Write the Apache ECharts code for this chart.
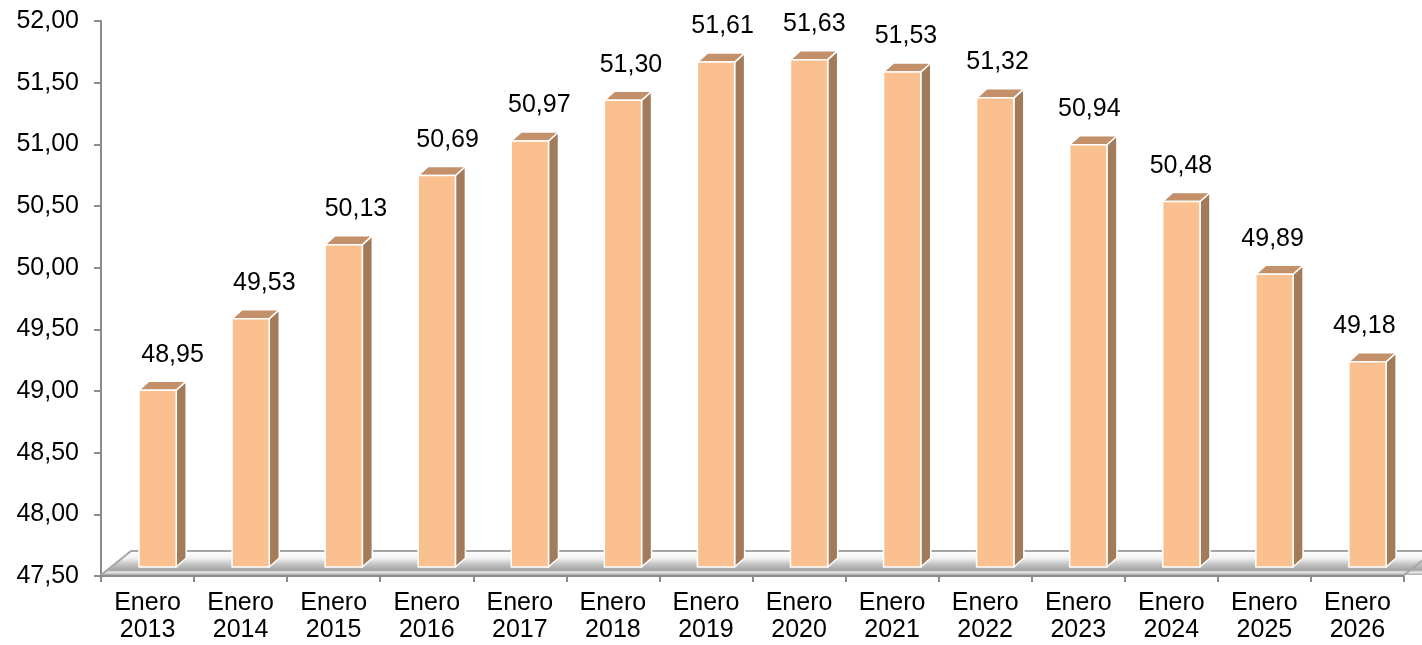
<!DOCTYPE html>
<html>
<head>
<meta charset="utf-8">
<script src="https://cdn.jsdelivr.net/npm/echarts@6/dist/echarts.min.js"></script>
<style>
html,body{margin:0;padding:0;background:#fff;}
#chart{width:1422px;height:645px;}
</style>
</head>
<body>
<div id="chart"></div>
<script>
const categories = ['Enero\n2013','Enero\n2014','Enero\n2015','Enero\n2016','Enero\n2017','Enero\n2018','Enero\n2019','Enero\n2020','Enero\n2021','Enero\n2022','Enero\n2023','Enero\n2024','Enero\n2025','Enero\n2026'];
const values = [48.95, 49.53, 50.13, 50.69, 50.97, 51.30, 51.61, 51.63, 51.53, 51.32, 50.94, 50.48, 49.89, 49.18];
const yTicks = { min: 47.5, max: 52, interval: 0.5 };

const FONT = '"Liberation Sans", Arial, sans-serif';
const fmt = v => v.toFixed(2).replace('.', ',');

function renderFloor(params, api) {
  const cs = params.coordSys;
  const fy = cs.y + cs.height - 1;
  const x0 = cs.x;
  const x1 = cs.x + cs.width;
  const dx = 30, dy = 24;
  return {
    type: 'group',
    children: [
      {
        type: 'polygon',
        shape: { points: [[x0, fy], [x0 + dx, fy - dy], [x1 + dx + 40, fy - dy], [x1 + 40, fy]] },
        style: {
          fill: new echarts.graphic.LinearGradient(0, 0, 0, 1, [
            { offset: 0, color: '#ffffff' },
            { offset: 0.3, color: '#f2f2f2' },
            { offset: 0.55, color: '#c4c4c4' },
            { offset: 0.8, color: '#a3a3a3' },
            { offset: 0.88, color: '#ececec' },
            { offset: 1, color: '#a8a8a8' }
          ])
        }
      },
      {
        type: 'polyline',
        shape: { points: [[x0, fy], [x0 + dx, fy - dy], [x1 + dx + 40, fy - dy]] },
        style: { stroke: '#a6a6a6', lineWidth: 2, fill: null }
      },
      {
        type: 'line',
        shape: { x1: x1, y1: fy, x2: x1 + 22, y2: fy - 17 },
        style: { stroke: '#a6a6a6', lineWidth: 2 }
      }
    ]
  };
}

function renderBar(params, api) {
  const i = api.value(0);
  const v = api.value(1);
  const p = api.coord([i, v]);
  const base = api.coord([i, yTicks.min]);
  const band = api.size([1, 0])[0];
  const w = band * 0.40;
  const cx = p[0] + band * 0.108;
  const xl = cx - w / 2, xr = cx + w / 2;
  const top = p[1] - 7;
  const bot = base[1] - 9;
  const dx = 10, dy = 9;
  const edge = { stroke: '#ffffff', lineWidth: 1.5, lineJoin: 'round' };
  return {
    type: 'group',
    children: [
      {
        type: 'polygon',
        shape: { points: [[xr, top], [xr + dx, top - dy], [xr + dx, bot - dy], [xr, bot]] },
        style: Object.assign({ fill: '#a27b5a' }, edge)
      },
      {
        type: 'polygon',
        shape: { points: [[xl, top], [xl + dx, top - dy], [xr + dx, top - dy], [xr, top]] },
        style: Object.assign({ fill: '#c3906a' }, edge)
      },
      {
        type: 'rect',
        shape: { x: xl, y: top, width: w, height: bot - top },
        style: Object.assign({ fill: '#fac08f' }, edge)
      },
      {
        type: 'text',
        style: {
          text: fmt(v),
          x: cx + 15 - 1.4 * i,
          y: top - dy - 14,
          align: 'center',
          verticalAlign: 'bottom',
          font: '25px ' + FONT,
          fill: '#000000'
        }
      }
    ]
  };
}

const chart = echarts.init(document.getElementById('chart'), null, { renderer: 'canvas' });
chart.setOption({
  animation: false,
  backgroundColor: '#ffffff',
  grid: { left: 101, right: 18, top: 21, bottom: 69, containLabel: false },
  xAxis: {
    type: 'category',
    data: categories,
    boundaryGap: true,
    axisLine: { show: true, lineStyle: { color: '#8c8c8c', width: 2 } },
    axisTick: { show: true, length: 6, lineStyle: { color: '#8c8c8c', width: 2 } },
    axisLabel: {
      color: '#000000',
      fontFamily: FONT,
      fontSize: 25,
      lineHeight: 27,
      margin: 14,
      interval: 0
    },
    splitLine: { show: false }
  },
  yAxis: {
    type: 'value',
    min: yTicks.min,
    max: yTicks.max,
    interval: yTicks.interval,
    axisLine: { show: true, lineStyle: { color: '#8c8c8c', width: 2 } },
    axisTick: { show: true, length: 7, lineStyle: { color: '#8c8c8c', width: 2 } },
    axisLabel: {
      color: '#000000',
      fontFamily: FONT,
      fontSize: 25,
      margin: 22,
      formatter: v => fmt(v)
    },
    splitLine: { show: false }
  },
  series: [
    {
      type: 'custom',
      z: 1,
      renderItem: renderFloor,
      data: [[0, yTicks.min]],
      silent: true
    },
    {
      type: 'custom',
      z: 3,
      renderItem: renderBar,
      encode: { x: 0, y: 1 },
      data: values.map((v, i) => [i, v])
    }
  ]
});
</script>
</body>
</html>
